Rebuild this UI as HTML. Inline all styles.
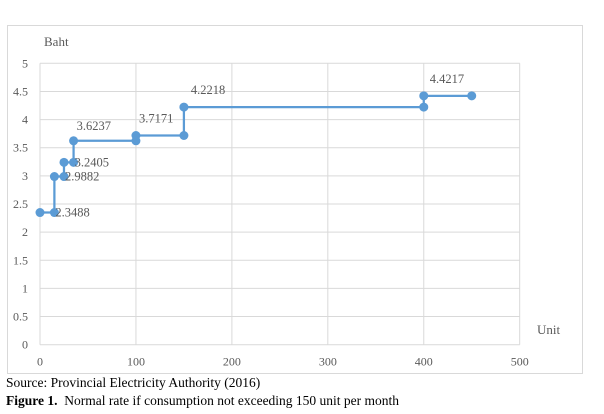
<!DOCTYPE html>
<html><head><meta charset="utf-8"><style>
body{margin:0;background:#fff;width:604px;height:414px;overflow:hidden;font-family:"Liberation Serif",serif;}
.cap{position:absolute;left:6px;font-size:13.5px;color:#000;}
</style></head><body>
<svg width="604" height="414" style="position:absolute;left:0;top:0" font-family="Liberation Serif, serif">
<rect x="7.5" y="25.5" width="575" height="348" fill="#fff" stroke="#d9d9d9"/>
<g id="grid"></g><g id="axes"></g><g id="series"></g><g id="labels"></g>
<text x="44" y="46" font-size="13" fill="#595959">Baht</text>
<text x="537" y="334" font-size="13" fill="#595959">Unit</text>
</svg>
<div class="cap" style="top:375px">Source: Provincial Electricity Authority (2016)</div>
<div class="cap" style="top:393px"><b>Figure 1.</b>&nbsp; Normal rate if consumption not exceeding 150 unit per month</div>
<script>
const xs=[0,15,15,25,25,35,35,100,100,150,150,400,400,450];
const ys=[2.3488,2.3488,2.9882,2.9882,3.2405,3.2405,3.6237,3.6237,3.7171,3.7171,4.2218,4.2218,4.4217,4.4217];
const labelVals=[2.3488,2.9882,3.2405,3.6237,3.7171,4.2218,4.4217];
const labelX=[15,25,35,35,100,150,400];
const xTicks=[0,100,200,300,400,500];
const yTicks=[0,0.5,1,1.5,2,2.5,3,3.5,4,4.5,5];
const X0=40,X1=519.7,Y0=344.7,Y1=63.3;
const sx=v=>X0+(v-0)/500*(X1-X0), sy=v=>Y0-(v/5)*(Y0-Y1);
const NS="http://www.w3.org/2000/svg";
function mk(t,a,p){const e=document.createElementNS(NS,t);for(const k in a)e.setAttribute(k,a[k]);p.appendChild(e);return e;}
const g=document.getElementById('grid'),ax=document.getElementById('axes'),s=document.getElementById('series'),lb=document.getElementById('labels');
yTicks.forEach(v=>{
 const l=mk('line',{x1:X0,x2:X1,y1:sy(v),y2:sy(v),stroke:'#d9d9d9'},g);
 
 
 const t=mk('text',{x:X0-12,y:sy(v)+4,'text-anchor':'end','font-size':12,fill:'#595959'},ax);t.textContent=v;
 
 
});
xTicks.forEach(v=>{
 const l=mk('line',{x1:sx(v),x2:sx(v),y1:Y1,y2:Y0,stroke:'#d9d9d9'},g);
 
 
 const t=mk('text',{x:sx(v),y:Y0+21,'text-anchor':'middle','font-size':12,fill:'#595959'},ax);t.textContent=v;
 
 
});
const pl=mk('polyline',{points:xs.map((x,i)=>sx(x)+','+sy(ys[i])).join(' '),fill:'none',stroke:'#5b9bd5','stroke-width':2.25},s);


xs.forEach((x,i)=>{const c=mk('circle',{cx:sx(x),cy:sy(ys[i]),r:4.5,fill:'#5b9bd5'},s);
 
 });
const off=[[1,4],[1,4],[1,4],[3,-11],[3,-13],[7,-13],[6,-13]];
labelVals.forEach((v,i)=>{const t=mk('text',{x:sx(labelX[i])+off[i][0],y:sy(v)+off[i][1],'font-size':12.5,fill:'#595959'},lb);t.textContent=v.toFixed(4);
 
 });
</script>
</body></html>
